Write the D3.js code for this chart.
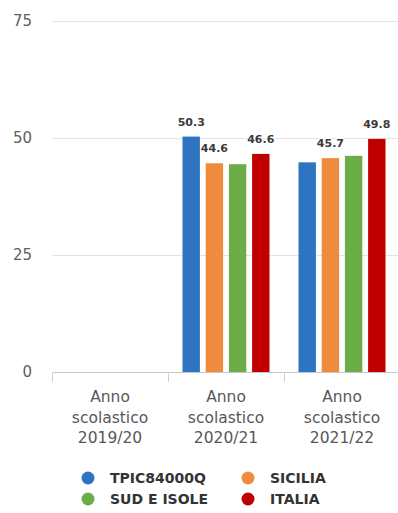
<!DOCTYPE html>
<html>
<head>
<meta charset="utf-8">
<script src="https://cdn.jsdelivr.net/npm/d3@7"></script>
<style>
    body { margin: 0; background: #fff; }
    svg { display: block; font-family: "DejaVu Sans", sans-serif; }
</style>
</head>
<body>
<div id="chart"></div>
<script>
// Data
const years = ["Anno scolastico 2019/20", "Anno scolastico 2020/21", "Anno scolastico 2021/22"];
const seriesNames = ["TPIC84000Q", "SICILIA", "SUD E ISOLE", "ITALIA"];
const seriesColors = ["#2e75c1", "#f08a3c", "#6dad47", "#c00000"];
// one array per series, null = no data for that year
const tpic = [null, 50.3, 44.8];
const sicilia = [null, 44.6, 45.7];
const sudIsole = [null, 44.4, 46.2];
const italia = [null, 46.6, 49.8];
// only some values get a label in the original (the rest overlap)
const showLabel = [
    [false, true, false],
    [false, true, true],
    [false, false, false],
    [false, true, true]
];
const yTicks = [0, 25, 50, 75];

const allSeries = [tpic, sicilia, sudIsole, italia];

const width = 398, height = 513;
const margin = { top: 21, right: -2, bottom: 141, left: 52 };

const svg = d3.select("#chart").append("svg")
    .attr("width", width)
    .attr("height", height);

const innerW = width - margin.left - margin.right;
const innerH = height - margin.top - margin.bottom;

const g = svg.append("g")
    .attr("transform", "translate(" + margin.left + "," + margin.top + ")");

// Scales
const x = d3.scaleBand()
    .domain(years)
    .range([0, innerW]);

const x1 = d3.scaleBand()
    .domain(seriesNames)
    .range([0, 87])
    .paddingInner(0.25);

const y = d3.scaleLinear()
    .domain([0, 75])
    .range([innerH, 0]);

// Grid lines
g.selectAll(".grid")
    .data(yTicks.filter(d => d > 0))
    .join("line")
    .attr("class", "grid")
    .attr("x1", 0)
    .attr("x2", innerW)
    .attr("y1", d => y(d) + 0.5)
    .attr("y2", d => y(d) + 0.5)
    .attr("stroke", "#e3e3e3")
    .attr("stroke-width", 1);

// Y axis labels
g.selectAll(".ytick")
    .data(yTicks)
    .join("text")
    .attr("class", "ytick")
    .attr("x", -20)
    .attr("y", d => y(d) + 5)
    .attr("text-anchor", "end")
    .style("font-size", "15px")
    .style("fill", "#606060")
    .text(d => d);

// X axis line + ticks
const xAxis = g.append("g")
    .attr("transform", "translate(0," + innerH + ")")
    .call(d3.axisBottom(x).tickSize(0).tickFormat(""));
xAxis.select(".domain").attr("stroke", "#c8c8c8").attr("d", "M0,0.5H" + innerW);

g.selectAll(".xtick")
    .data(years)
    .join("line")
    .attr("class", "xtick")
    .attr("x1", d => Math.round(x(d)) + 0.5)
    .attr("x2", d => Math.round(x(d)) + 0.5)
    .attr("y1", innerH)
    .attr("y2", innerH + 10)
    .attr("stroke", "#d0d0d0");

// X labels, split into three lines
const xl = g.selectAll(".xlabel")
    .data(years)
    .join("text")
    .attr("class", "xlabel")
    .attr("text-anchor", "middle")
    .style("font-size", "15.5px")
    .style("fill", "#585858")
    .attr("transform", d => "translate(" + (x(d) + x.bandwidth() / 2) + "," + (innerH + 30) + ")");

xl.each(function(d) {
    const parts = d.split(" ");
    d3.select(this).selectAll("tspan")
        .data(parts)
        .join("tspan")
        .attr("x", 0)
        .attr("dy", (p, i) => i === 0 ? 0 : 20.5)
        .text(p => p);
});

// Bars
const groups = g.selectAll(".yeargroup")
    .data(years)
    .join("g")
    .attr("class", "yeargroup")
    .attr("transform", d => "translate(" + (x(d) + x.bandwidth() / 2 - 43.5) + ",0)");

groups.each(function(yr, yi) {
    const rows = seriesNames.map((s, si) => ({ s, si, v: allSeries[si][yi], lbl: showLabel[si][yi] }))
        .filter(r => r.v !== null);

    d3.select(this).selectAll("rect")
        .data(rows)
        .join("rect")
        .attr("x", r => x1(r.s))
        .attr("y", r => y(r.v))
        .attr("width", x1.bandwidth())
        .attr("height", r => innerH - y(r.v))
        .attr("fill", r => seriesColors[r.si]);

    d3.select(this).selectAll("text")
        .data(rows.filter(r => r.lbl))
        .join("text")
        .attr("x", r => x1(r.s) + x1.bandwidth() / 2)
        .attr("y", r => y(r.v) - 11)
        .attr("text-anchor", "middle")
        .style("font-size", "11px")
        .style("font-weight", "bold")
        .style("fill", "#3a3a3a")
        .style("stroke", "#fff")
        .style("stroke-width", 2)
        .style("paint-order", "stroke")
        .text(r => r.v.toFixed(1));
});

// Legend
const legendPos = [[88, 478], [248, 478], [88, 499], [248, 499]];
const legend = svg.selectAll(".legend")
    .data(seriesNames)
    .join("g")
    .attr("class", "legend")
    .attr("transform", (d, i) => "translate(" + legendPos[i][0] + "," + legendPos[i][1] + ")");

legend.append("circle")
    .attr("r", 6.5)
    .attr("fill", (d, i) => seriesColors[i]);

legend.append("text")
    .attr("x", 22)
    .attr("y", 5)
    .style("font-size", "14px")
    .style("font-weight", "bold")
    .style("fill", "#333")
    .text(d => d);
</script>
</body>
</html>
